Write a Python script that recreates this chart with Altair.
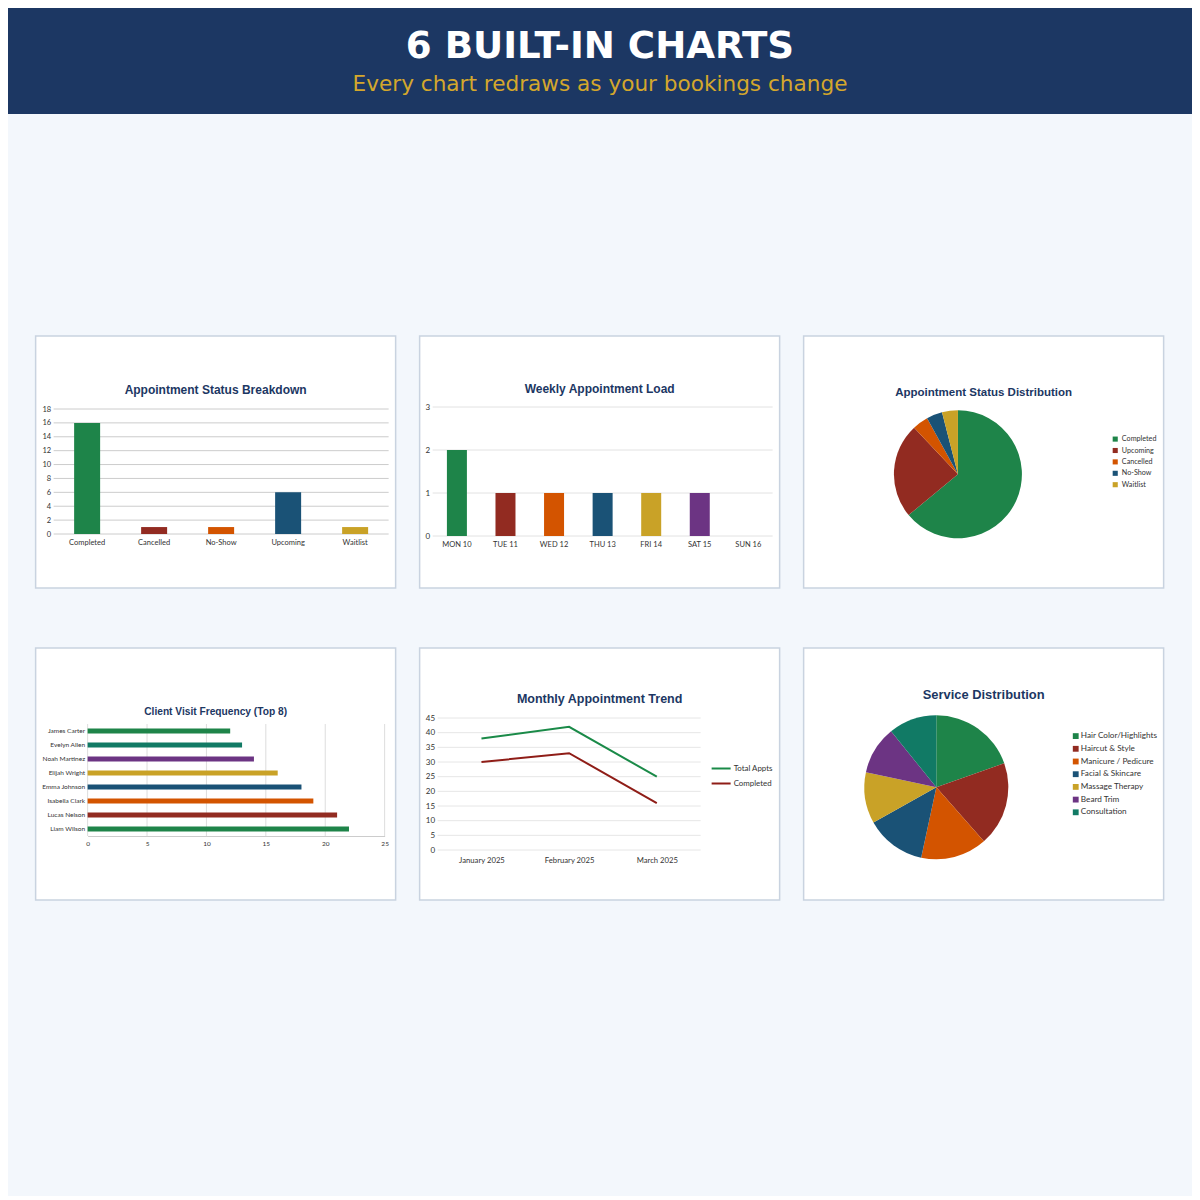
import altair as alt
import pandas as pd

# ---------------- data ----------------
header_title = "6 BUILT-IN CHARTS"
header_subtitle = "Every chart redraws as your bookings change"

status_labels = ["Completed", "Cancelled", "No-Show", "Upcoming", "Waitlist"]
status_counts = [16, 1, 1, 6, 1]
status_ticks = [0, 2, 4, 6, 8, 10, 12, 14, 16, 18]

day_labels = ["MON 10", "TUE 11", "WED 12", "THU 13", "FRI 14", "SAT 15", "SUN 16"]
day_counts = [2, 1, 1, 1, 1, 1, 0]
day_ticks = [0, 1, 2, 3]

dist_labels = ["Completed", "Upcoming", "Cancelled", "No-Show", "Waitlist"]
dist_counts = [16, 6, 1, 1, 1]

client_names = ["James Carter", "Evelyn Allen", "Noah Martinez", "Elijah Wright",
                "Emma Johnson", "Isabella Clark", "Lucas Nelson", "Liam Wilson"]
client_visits = [12, 13, 14, 16, 18, 19, 21, 22]
client_ticks = [0, 5, 10, 15, 20, 25]

months = ["January 2025", "February 2025", "March 2025"]
total_appts = [38, 42, 25]
completed_appts = [30, 33, 16]
month_ticks = [0, 5, 10, 15, 20, 25, 30, 35, 40, 45]

services = ["Hair Color/Highlights", "Haircut & Style", "Manicure / Pedicure",
            "Facial & Skincare", "Massage Therapy", "Beard Trim", "Consultation"]
service_counts = [29, 28, 22, 20, 17, 16, 16]

# ---------------- style ----------------
NAVY = "#1c3763"
GOLD = "#d4a72c"
BG = "#f3f7fc"
BORDER = "#c9d3e0"
GREEN, RED, ORANGE, BLUE, YELLOW, PURPLE, TEAL = (
    "#1e8449", "#922b21", "#d35400", "#1a5276", "#c9a227", "#6c3483", "#117a65")

status_colors = [GREEN, RED, ORANGE, BLUE, YELLOW]
day_colors = [GREEN, RED, ORANGE, BLUE, YELLOW, PURPLE, TEAL]
dist_colors = [GREEN, RED, ORANGE, BLUE, YELLOW]
client_colors = [GREEN, TEAL, PURPLE, YELLOW, BLUE, ORANGE, RED, GREEN]
service_colors = [GREEN, RED, ORANGE, BLUE, YELLOW, PURPLE, TEAL]

# every card is a 360x252 view; the plot sits inside it through the scale ranges
CARD_W, CARD_H = 360, 252
card_view = alt.ViewBackground(fill="white", stroke=BORDER, strokeWidth=1.5)


def card_title(text, baseline_y, size):
    return alt.TitleParams(text, font="Liberation Sans", fontSize=size, fontWeight="bold",
                           color=NAVY, baseline="alphabetic", anchor="middle",
                           offset=-baseline_y)


def hrules(values, scale, axis, x0, x1, color):
    return alt.Chart(pd.DataFrame({"v": values})).mark_rule(color=color, strokeWidth=1).encode(
        y=alt.Y("v:Q", scale=scale, axis=axis, title=None), x=alt.value(x0), x2=alt.value(x1))


# ---------------- 1. status breakdown ----------------
l1, t1, w1, h1 = 18, 73, 335, 125
y1 = alt.Scale(domain=[0, 18], nice=False, range=[t1 + h1, t1])
ax1 = alt.Axis(values=status_ticks, ticks=False, domain=False, grid=False,
               labelFontSize=7.5, labelPadding=3, offset=-l1)
bars1 = alt.Chart(pd.DataFrame({"status": status_labels, "count": status_counts})).mark_bar(size=26).encode(
    x=alt.X("status:N", sort=status_labels, title=None, scale=alt.Scale(range=[l1, l1 + w1]),
            axis=alt.Axis(labelAngle=0, ticks=False, domain=False, labelFontSize=7.5,
                          labelPadding=4, offset=-(CARD_H - t1 - h1))),
    y=alt.Y("count:Q", scale=y1, title=None, axis=ax1),
    color=alt.Color("status:N", scale=alt.Scale(domain=status_labels, range=status_colors), legend=None),
)
c1 = alt.layer(hrules(status_ticks, y1, ax1, l1, l1 + w1, "#cccccc"), bars1).properties(
    width=CARD_W, height=CARD_H, view=card_view,
    title=card_title("Appointment Status Breakdown", 70, 12))

# ---------------- 2. weekly load ----------------
l2, t2, w2, h2 = 13, 71, 340, 129
y2 = alt.Scale(domain=[0, 3], nice=False, range=[t2 + h2, t2])
ax2 = alt.Axis(values=day_ticks, ticks=False, domain=False, grid=False,
               labelFontSize=8, labelPadding=3, offset=-l2)
bars2 = alt.Chart(pd.DataFrame({"day": day_labels, "count": day_counts})).mark_bar(size=20).encode(
    x=alt.X("day:N", sort=day_labels, title=None, scale=alt.Scale(range=[l2, l2 + w2]),
            axis=alt.Axis(labelAngle=0, ticks=False, domain=False, labelFontSize=7.5,
                          labelPadding=4, offset=-(CARD_H - t2 - h2))),
    y=alt.Y("count:Q", scale=y2, title=None, axis=ax2),
    color=alt.Color("day:N", scale=alt.Scale(domain=day_labels, range=day_colors), legend=None),
)
c2 = alt.layer(hrules(day_ticks, y2, ax2, l2, l2 + w2, "#e2e2e2"), bars2).properties(
    width=CARD_W, height=CARD_H, view=card_view,
    title=card_title("Weekly Appointment Load", 69, 12))

# ---------------- 3. status distribution pie ----------------
c3 = alt.Chart(pd.DataFrame({"status": dist_labels, "count": dist_counts,
                             "rank": list(range(len(dist_labels)))})).mark_arc(outerRadius=64).encode(
    x=alt.value(154.3), y=alt.value(138.3),
    theta=alt.Theta("count:Q", stack=True),
    order=alt.Order("rank:Q"),
    color=alt.Color("status:N", scale=alt.Scale(domain=dist_labels, range=dist_colors),
                    legend=alt.Legend(title=None, orient="none", legendX=308, legendY=99.5,
                                      symbolType="square", symbolSize=26, labelFontSize=7.2,
                                      rowPadding=3.4, labelOffset=3)),
).properties(width=CARD_W, height=CARD_H, view=card_view,
             title=card_title("Appointment Status Distribution", 71, 11.5))

# ---------------- 4. client visits ----------------
l4, t4, w4, h4 = 52, 76, 297, 112
x4 = alt.Scale(domain=[0, 25], nice=False, range=[l4, l4 + w4])
ax4 = alt.Axis(values=client_ticks, ticks=False, domain=True, domainColor="#cccccc",
               grid=False, labelFlush=False, labelFontSize=6.5, labelPadding=4,
               offset=-(CARD_H - t4 - h4))
grid4 = alt.Chart(pd.DataFrame({"v": client_ticks})).mark_rule(color="#dddddd", strokeWidth=1).encode(
    x=alt.X("v:Q", scale=x4, axis=ax4, title=None), y=alt.value(t4), y2=alt.value(t4 + h4))
bars4 = alt.Chart(pd.DataFrame({"client": client_names, "visits": client_visits})).mark_bar(size=5).encode(
    y=alt.Y("client:N", sort=client_names, title=None, scale=alt.Scale(range=[t4, t4 + h4]),
            axis=alt.Axis(ticks=False, domain=False, labelFontSize=6.5, labelPadding=3, offset=-l4)),
    x=alt.X("visits:Q", scale=x4, title=None, axis=ax4),
    color=alt.Color("client:N", scale=alt.Scale(domain=client_names, range=client_colors), legend=None),
)
c4 = alt.layer(grid4, bars4).properties(
    width=CARD_W, height=CARD_H, view=card_view,
    title=card_title("Client Visit Frequency (Top 8)", 77.5, 10.2))

# ---------------- 5. monthly trend ----------------
l5, t5, w5, h5 = 18, 70, 263, 132
y5 = alt.Scale(domain=[0, 45], nice=False, range=[t5 + h5, t5])
ax5 = alt.Axis(values=month_ticks, ticks=False, domain=False, grid=False,
               labelFontSize=8, labelPadding=3, offset=-l5)
trend = pd.DataFrame({
    "month": months * 2,
    "series": ["Total Appts"] * len(months) + ["Completed"] * len(months),
    "value": total_appts + completed_appts,
})
lines5 = alt.Chart(trend).mark_line(strokeWidth=2).encode(
    x=alt.X("month:N", sort=months, title=None,
            scale=alt.Scale(type="point", padding=0.5, range=[l5, l5 + w5]),
            axis=alt.Axis(labelAngle=0, ticks=False, domain=False, labelFontSize=7.7,
                          labelPadding=6, offset=-(CARD_H - t5 - h5))),
    y=alt.Y("value:Q", scale=y5, title=None, axis=ax5),
    color=alt.Color("series:N", scale=alt.Scale(domain=["Total Appts", "Completed"],
                                                range=["#1a8a48", "#8f1d17"]),
                    legend=alt.Legend(title=None, orient="none", legendX=291, legendY=110,
                                      symbolType="stroke", symbolSize=361, symbolStrokeWidth=2,
                                      labelFontSize=7.9, rowPadding=-4.3, labelOffset=2)),
)
c5 = alt.layer(hrules(month_ticks, y5, ax5, l5, l5 + w5, "#e6e6e6"), lines5).properties(
    width=CARD_W, height=CARD_H, view=card_view,
    title=card_title("Monthly Appointment Trend", 67.5, 12.5))

# ---------------- 6. service distribution pie ----------------
c6 = alt.Chart(pd.DataFrame({"service": services, "count": service_counts,
                             "rank": list(range(len(services)))})).mark_arc(outerRadius=72).encode(
    x=alt.value(132.7), y=alt.value(139.3),
    theta=alt.Theta("count:Q", stack=True),
    order=alt.Order("rank:Q"),
    color=alt.Color("service:N", scale=alt.Scale(domain=services, range=service_colors),
                    legend=alt.Legend(title=None, orient="none", legendX=268, legendY=84,
                                      symbolType="square", symbolSize=34, labelFontSize=8.2,
                                      rowPadding=3.7, labelOffset=1)),
).properties(width=CARD_W, height=CARD_H, view=card_view,
             title=card_title("Service Distribution", 64, 12.9))

# ---------------- header band ----------------
one_row = alt.Data(values=[{"k": 0}])
head_title = alt.Chart(one_row).mark_text(
    text=header_title, font="DejaVu Sans", fontSize=37.2, fontWeight="bold", color="white",
    align="center", baseline="alphabetic").encode(x=alt.value(592), y=alt.value(49.7))
head_sub = alt.Chart(one_row).mark_text(
    text=header_subtitle, font="DejaVu Sans", fontSize=21.6, color=GOLD,
    align="center", baseline="alphabetic").encode(x=alt.value(592), y=alt.value(83))
header = alt.layer(head_title, head_sub).properties(
    width=1184, height=106, view=alt.ViewBackground(fill=NAVY, stroke=None))

indep = dict(x="independent", y="independent", color="independent")
row1 = alt.hconcat(c1, c2, c3, spacing=22).resolve_scale(**indep)
row2 = alt.hconcat(c4, c5, c6, spacing=22).resolve_scale(**indep)
cards = alt.vconcat(row1, row2, spacing=58).resolve_scale(**indep)

chart = alt.vconcat(header, cards, spacing=221, center=True).resolve_scale(**indep).properties(
    padding={"left": 0, "top": 0, "right": 0, "bottom": 295},
    background=BG,
).configure_view(stroke=None).configure_axis(
    labelFont="Lato", labelColor="#333333"
).configure_legend(
    labelFont="Lato", labelColor="#333333", padding=0
)

chart.save("out.html", embed_options={"renderer": "svg", "actions": False})
